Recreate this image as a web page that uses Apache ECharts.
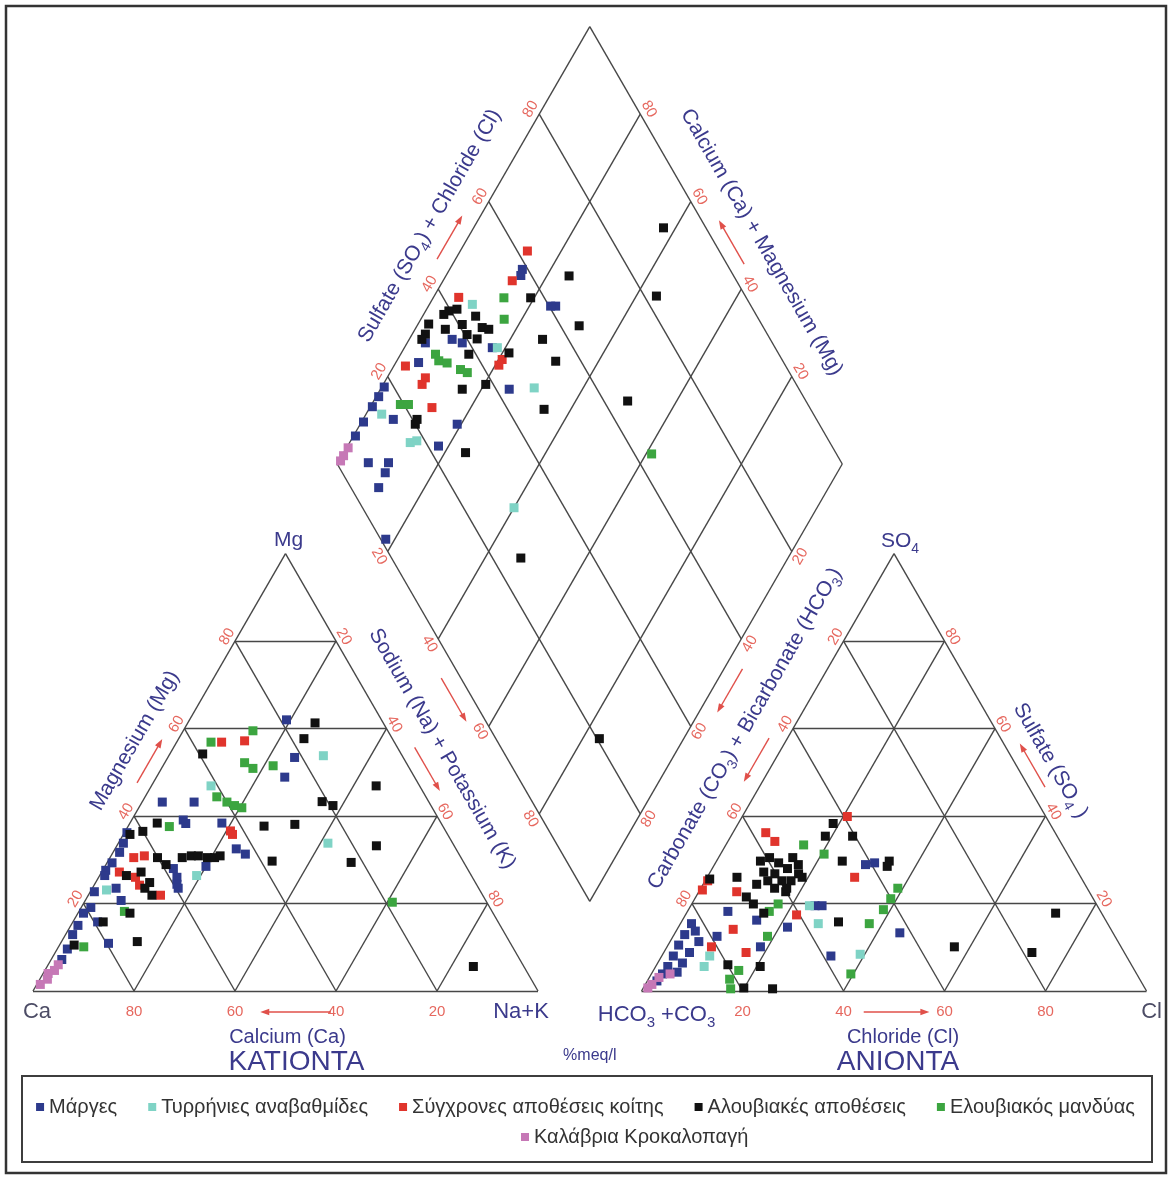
<!DOCTYPE html>
<html>
<head>
<meta charset="utf-8">
<title>Piper diagram</title>
<script src="https://cdn.jsdelivr.net/npm/echarts@6/dist/echarts.min.js"></script>
<style>
html, body { margin: 0; padding: 0; background: #fff; }
#chart { width: 1171px; height: 1180px; }
</style>
</head>
<body>
<div id="chart"></div>
<script>
// ---- sample groups ----
const groups = ['Μάργες', 'Τυρρήνιες αναβαθμίδες', 'Σύγχρονες αποθέσεις κοίτης', 'Αλουβιακές αποθέσεις', 'Ελουβιακός μανδύας', 'Καλάβρια Κροκαλοπαγή'];
const groupColors = ['#2d3a8c', '#7fd3c5', '#e0342c', '#111111', '#3ca540', '#c678b6'];
const tickValues = [20, 40, 60, 80];

// ---- cation triangle, each sample as [Mg %, Na+K %] ----
const cationMarges = [[62, 19.2], [53.4, 25.1], [48.9, 25.4], [43.2, 10.3], [43.2, 4.0], [39.1, 10.2], [38.3, 11.1], [38.4, 18.2], [32.5, 24.0], [31.3, 26.4], [36.2, 0.5], [33.8, 1], [31.7, 1.3], [29.3, 1], [27.6, 0.6], [28, 13.8], [28.5, 20], [26, 15.5], [24.4, 16.3], [23.5, 17], [26.4, 1], [23.5, 4.7], [20.7, 7.1], [19.1, 1.9], [15.8, 4.9], [10.9, 9.5], [22.7, 0.8], [17.8, 1.1], [15, 1.4], [12.9, 1.4], [9.6, 2], [7.2, 2.1]];
const cationTyrrhenian = [[53.8, 30.6], [46.9, 11.8], [33.8, 41.5], [26.4, 19.2], [23.1, 3.0]];
const cationRecent = [[56.9, 8.9], [57.2, 13.3], [36.6, 20.8], [35.8, 21.6], [30.5, 4.7], [30.9, 6.6], [27.2, 3.5], [26, 7.3], [24.2, 9.0], [21.9, 14.3]];
const cationAlluvial = [[61.3, 25.2], [57.7, 24.8], [54.2, 6.5], [46.9, 44.5], [43.3, 35.6], [42.4, 38.2], [38.4, 5.4], [36.5, 3.5], [35.8, 1.3], [37.7, 26.9], [38.1, 32.8], [33.2, 51.4], [29.7, 32.5], [29.4, 48.3], [30.5, 9.4], [28.9, 11.9], [30.5, 14.3], [30.9, 15.9], [30.9, 17.3], [30.5, 19.3], [30.5, 20.7], [30.9, 21.6], [26.4, 5.3], [27.2, 7.8], [24.8, 10.7], [23.5, 10.4], [21.9, 12.6], [17.8, 10.3], [15.8, 6.0], [11.3, 15.0], [10.5, 2.9], [5.6, 84.4]];
const cationEluvial = [[59.5, 13.8], [56.9, 6.8], [52.2, 15.8], [50.9, 18.1], [51.5, 21.8], [44.4, 14.2], [43.2, 16.8], [42.4, 18.7], [41.9, 20.4], [37.6, 8.2], [20.3, 61], [18.2, 9.0], [10.1, 5.0]];
const cationCalabria = [[6.0, 2.0], [4.7, 1.9], [4.0, 1.0], [2.7, 1.5], [1.5, 0.7]];

// ---- anion triangle, each sample as [SO4 %, Cl %] ----
const anionMarges = [[29.3, 31.5], [28.9, 29.9], [19.5, 24.6], [19.5, 26.0], [16.2, 14.7], [14.6, 21.6], [13.3, 44.5], [8.0, 33.5], [18.2, 8.0], [12.5, 8.7], [10.1, 18.5], [15.4, 2.2], [12.9, 2.1], [10.5, 2.1], [8.0, 2.3], [5.6, 2.4], [3.9, 2.2], [2.3, 1.9], [11.3, 5.7], [8.8, 5.1], [6.4, 4.9], [4.3, 4.9], [13.7, 3.8]];
const anionTyrrhenian = [[19.5, 23.5], [15.4, 27.3], [8.4, 39.1], [5.6, 9.6], [8.0, 9.5]];
const anionRecent = [[39.9, 20.8], [36.2, 6.5], [34.2, 9.3], [25.2, 0.5], [23.1, 0.5], [22.7, 7.5], [26.0, 29.2], [17.4, 22.0], [14.1, 11.1], [8.8, 16.3], [10.1, 8.8]];
const anionAlluvial = [[38.3, 18.8], [35.4, 18.7], [35.4, 24.1], [29.7, 24.9], [29.7, 34.2], [28.5, 34.4], [29.7, 8.7], [30.5, 10.1], [29.3, 12.5], [30.5, 14.7], [28.9, 16.6], [27.2, 10.6], [26.8, 13.0], [28.0, 14.9], [26.8, 17.7], [25.2, 12.4], [25.2, 15.2], [25.2, 17.0], [26.0, 18.8], [24.4, 10.6], [23.5, 14.6], [22.7, 17.2], [23.5, 17.0], [25.6, 0.7], [26.0, 5.9], [21.5, 10.0], [19.9, 12.2], [17.8, 15.3], [15.8, 31.1], [6.0, 14.1], [0.7, 19.9], [0.5, 25.7], [5.6, 20.7], [10.1, 56.9], [8.8, 72.9], [17.8, 73.1]];
const anionEluvial = [[33.4, 15.4], [31.3, 20.5], [23.5, 39.0], [21.1, 38.8], [18.6, 38.6], [19.9, 17.1], [18.2, 16.2], [12.5, 18.7], [4.7, 16.9], [2.7, 16.1], [0.5, 17.4], [3.9, 39.5], [15.4, 37.4]];
const anionCalabria = [[1.5, 1.3], [0.7, 0.9], [3.1, 1.9], [3.9, 3.7]];

// ---- central diamond, each sample as [Na+K %, SO4+Cl %] ----
const diamondMarges = [[14.4, 58.9], [14.8, 57.9], [25.2, 61.3], [24.2, 60.3], [8.5, 37.0], [10.9, 38.6], [17.4, 44.0], [3.6, 31.3], [4.5, 27.7], [25.5, 42.6], [0.5, 18.1], [0.5, 15.9], [0.4, 13.5], [0.4, 10.0], [0.4, 6.8], [6.0, 16.2], [19.2, 28.3], [18.0, 22.1], [6.0, 6.3], [10.0, 10.3], [10.5, 8.5], [10.9, 5.5], [18.2, 1]];
const diamondTyrrhenian = [[8.5, 45.0], [18.4, 45.0], [30.3, 47.7], [3.1, 14.5], [12.0, 16.9], [13.1, 18.4], [40.0, 30.0]];
const diamondRecent = [[13.3, 62.0], [13.7, 55.6], [5.0, 43.1], [2.3, 24.7], [7.6, 27.3], [7.7, 25.9], [12.3, 25.2], [20.7, 44.6], [20.7, 43.3]];
const diamondAlluvial = [[19.3, 57.3], [24.4, 67.4], [32.1, 63.7], [4.6, 39.6], [4.0, 38.2], [6.0, 41.4], [2.1, 34.1], [6.0, 36.8], [8.8, 40.7], [10.5, 44.3], [13.1, 44.3], [14.6, 45.4], [10.9, 40.5], [13.4, 42.0], [2.6, 32.3], [2.5, 31.0], [13.5, 38.6], [21.3, 46.7], [26.4, 54.9], [31.5, 55.0], [16.2, 33.3], [20.3, 38.5], [34.7, 47.2], [10.7, 20.9], [10.9, 20.0], [24.1, 26.7], [37.6, 91.6], [44.0, 82.4], [50.3, 64.7], [47.1, 25.6], [83.3, 20.5]];
const diamondEluvial = [[14.0, 52.0], [16.5, 49.6], [6.9, 32.0], [8.3, 31.9], [10.2, 33.3], [13.6, 35.2], [15.3, 36.2], [5.7, 19.3], [7.3, 20.9], [61.1, 63.4]];
const diamondCalabria = [[0.3, 2.2], [0.3, 4.0], [0.3, 1.0]];

const cationSets = [cationMarges, cationTyrrhenian, cationRecent, cationAlluvial, cationEluvial, cationCalabria];
const anionSets = [anionMarges, anionTyrrhenian, anionRecent, anionAlluvial, anionEluvial, anionCalabria];
const diamondSets = [diamondMarges, diamondTyrrhenian, diamondRecent, diamondAlluvial, diamondEluvial, diamondCalabria];

// ---- layout ----
const W = 1171, HT = 1180;
const PX = 5.05;            // pixels per percent along a triangle side
const ORIGIN = [33, 991];   // pixel position of the Ca corner
const GAP = 20.5;           // space between the two triangles, in percent units
const R3 = Math.sqrt(3) / 2;
const B = [100 + GAP / 2, GAP * R3];   // lowest vertex of the diamond

const FONT = '"Liberation Sans", Arial, Helvetica, sans-serif';
const TITLE = '#3b3a8c';
const TICK = '#e6685f';
const RED = '#e0504a';
const GRIDLINE = '#474747';

// ternary -> plane (percent units, Ca corner at the origin)
const catXY = d => [d[1] + d[0] / 2, d[0] * R3];
const anXY = d => [100 + GAP + d[1] + d[0] / 2, d[0] * R3];
const diaXY = d => [B[0] - (100 - d[0]) * 0.5 + d[1] * 0.5, B[1] + (100 - d[0]) * R3 + d[1] * R3];

// frame lines of the three plots
const segs = [];
const seg = (a, b) => segs.push({ coords: [a, b] });
[catXY, anXY].forEach(f => {
  seg(f([0, 0]), f([0, 100]));
  seg(f([0, 100]), f([100, 0]));
  seg(f([100, 0]), f([0, 0]));
  tickValues.forEach(k => {
    seg(f([k, 0]), f([k, 100 - k]));
    seg(f([0, k]), f([100 - k, k]));
    seg(f([0, 100 - k]), f([100 - k, 0]));
  });
});
seg(diaXY([0, 0]), diaXY([0, 100]));
seg(diaXY([0, 100]), diaXY([100, 100]));
seg(diaXY([100, 100]), diaXY([100, 0]));
seg(diaXY([100, 0]), diaXY([0, 0]));
tickValues.forEach(k => {
  seg(diaXY([k, 0]), diaXY([k, 100]));
  seg(diaXY([0, k]), diaXY([100, k]));
});

const scatterSeries = groups.map((name, i) => ({
  name: name,
  type: 'scatter',
  symbol: 'rect',
  symbolSize: 9,
  z: name === 'Αλουβιακές αποθέσεις' ? 4 : 3,
  itemStyle: { color: groupColors[i], opacity: 1 },
  data: cationSets[i].map(catXY).concat(anionSets[i].map(anXY), diamondSets[i].map(diaXY)),
  silent: true
}));

const legendText = { fontSize: 20, color: '#333', fontFamily: FONT };
const chart = echarts.init(document.getElementById('chart'));
chart.setOption({
  animation: false,
  backgroundColor: '#fff',
  grid: { left: 0, right: 0, top: 0, bottom: 0 },
  xAxis: { type: 'value', min: -ORIGIN[0] / PX, max: (W - ORIGIN[0]) / PX, show: false },
  yAxis: { type: 'value', min: -(HT - ORIGIN[1]) / PX, max: ORIGIN[1] / PX, show: false },
  legend: [
    { data: groups.slice(0, 5), top: 1092, left: 'center', itemGap: 31, itemWidth: 8, itemHeight: 8, icon: 'rect', textStyle: legendText, selectedMode: false },
    { data: [groups[5]], top: 1122, left: 516, itemWidth: 8, itemHeight: 8, icon: 'rect', textStyle: legendText, selectedMode: false }
  ],
  series: [{
    type: 'lines',
    coordinateSystem: 'cartesian2d',
    data: segs,
    lineStyle: { color: GRIDLINE, width: 1.4, opacity: 1 },
    silent: true,
    z: 1
  }].concat(scatterSeries)
});

// ---- texts and arrows ----
const toPx = p => chart.convertToPixel({ xAxisIndex: 0, yAxisIndex: 0 }, p);
const N_UL = [-R3, -0.5], N_UR = [R3, -0.5], N_LL = [-R3, 0.5], N_LR = [R3, 0.5], N_DOWN = [0, 1];
const ROT_UP = Math.PI / 3, ROT_DOWN = -Math.PI / 3;

function txt(x, y, text, size, color, rot, rich) {
  return {
    type: 'text', x: x, y: y, rotation: rot || 0, z: 100,
    style: {
      text: text, fill: color, font: size + 'px ' + FONT,
      align: 'center', verticalAlign: 'middle',
      rich: rich || undefined
    }
  };
}
function at(pu, normal, dist) {
  const p = toPx(pu);
  return [p[0] + normal[0] * dist, p[1] + normal[1] * dist];
}
function richSub(size) {
  return {
    n: { fontSize: size, fontFamily: FONT, lineHeight: size + 8, verticalAlign: 'middle' },
    s: { fontSize: Math.round(size * 0.68), fontFamily: FONT, lineHeight: size + 8, verticalAlign: 'bottom' }
  };
}
function arrowPx(a, b) {
  const dx = b[0] - a[0], dy = b[1] - a[1], L = Math.hypot(dx, dy), ux = dx / L, uy = dy / L;
  const hl = 9, hw = 3.2;
  const base = [b[0] - ux * hl, b[1] - uy * hl];
  return [
    { type: 'line', z: 100, shape: { x1: a[0], y1: a[1], x2: base[0] + ux * 2, y2: base[1] + uy * 2 }, style: { stroke: RED, lineWidth: 1.4 } },
    { type: 'polygon', z: 100, shape: { points: [b, [base[0] - uy * hw, base[1] + ux * hw], [base[0] + uy * hw, base[1] - ux * hw]] }, style: { fill: RED } }
  ];
}
function arrowAlong(p0u, p1u, normal, dist) {
  return arrowPx(at(p0u, normal, dist), at(p1u, normal, dist));
}

const g = [];
// tick labels
tickValues.forEach(k => {
  let p;
  p = at(catXY([0, 100 - k]), N_DOWN, 21); g.push(txt(p[0], p[1], String(k), 15, TICK));
  p = at(catXY([k, 0]), N_UL, 9); g.push(txt(p[0], p[1], String(k), 15, TICK, ROT_UP));
  p = at(catXY([100 - k, k]), N_UR, 9); g.push(txt(p[0], p[1], String(k), 15, TICK, ROT_DOWN));
  p = at(anXY([0, k]), N_DOWN, 21); g.push(txt(p[0], p[1], String(k), 15, TICK));
  p = at(anXY([100 - k, 0]), N_UL, 9); g.push(txt(p[0], p[1], String(k), 15, TICK, ROT_UP));
  p = at(anXY([k, 100 - k]), N_UR, 9); g.push(txt(p[0], p[1], String(k), 15, TICK, ROT_DOWN));
  p = at(diaXY([0, k]), N_UL, 10); g.push(txt(p[0], p[1], String(k), 15, TICK, ROT_UP));
  p = at(diaXY([k, 0]), N_LL, 10); g.push(txt(p[0], p[1], String(k), 15, TICK, ROT_DOWN));
  p = at(diaXY([100 - k, 100]), N_UR, 10); g.push(txt(p[0], p[1], String(k), 15, TICK, ROT_DOWN));
  p = at(diaXY([100, 100 - k]), N_LR, 10); g.push(txt(p[0], p[1], String(k), 15, TICK, ROT_UP));
});

// side titles
const TS = 21;
let p;
p = at(catXY([53, 0]), N_UL, 37); g.push(txt(p[0], p[1], 'Magnesium (Mg)', TS, TITLE, ROT_UP));
p = at(catXY([51, 49]), N_UR, 38); g.push(txt(p[0], p[1], 'Sodium (Na) + Potassium (K)', TS, TITLE, ROT_DOWN));
p = at(diaXY([0, 50]), N_UL, 39); g.push(txt(p[0], p[1], '{n|Sulfate (SO}{s|4}{n|) + Chloride (Cl)}', TS, TITLE, ROT_UP, richSub(TS)));
p = at(diaXY([54, 100]), N_UR, 41); g.push(txt(p[0], p[1], 'Calcium (Ca) + Magnesium (Mg)', TS, TITLE, ROT_DOWN));
p = at(diaXY([100, 45]), N_LR, 48); g.push(txt(p[0], p[1], '{n|Carbonate (CO}{s|3}{n|) + Bicarbonate (HCO}{s|3}{n|)}', TS, TITLE, ROT_UP, richSub(TS)));
p = at(anXY([49, 51]), N_UR, 32); g.push(txt(p[0], p[1], '{n|Sulfate (SO}{s|4}{n| )}', TS, TITLE, ROT_DOWN, richSub(TS)));

// arrows showing increasing direction
g.push(...arrowAlong(catXY([46, 0]), catXY([56, 0]), N_UL, 14));
g.push(...arrowAlong(catXY([54, 46]), catXY([44, 56]), N_UR, 15));
g.push(...arrowAlong(catXY([0, 59]), catXY([0, 45]), N_DOWN, 21));
g.push(...arrowAlong(anXY([0, 44]), anXY([0, 57]), N_DOWN, 21));
g.push(...arrowAlong(diaXY([0, 45]), diaXY([0, 55]), N_UL, 16));
g.push(...arrowAlong(diaXY([47, 0]), diaXY([57, 0]), N_LL, 17));
g.push(...arrowAlong(diaXY([56, 100]), diaXY([46, 100]), N_UR, 15));
g.push(...arrowAlong(diaXY([100, 55]), diaXY([100, 45]), N_LR, 16));
g.push(...arrowAlong(anXY([56, 0]), anXY([46, 0]), N_UL, 16));
g.push(...arrowAlong(anXY([45, 55]), anXY([55, 45]), N_UR, 14));

// corner and bottom labels
const caPx = toPx(catXY([0, 0])), nkPx = toPx(catXY([0, 100])), mgPx = toPx(catXY([100, 0]));
const hcPx = toPx(anXY([0, 0])), clPx = toPx(anXY([0, 100])), soPx = toPx(anXY([100, 0]));
g.push(txt(caPx[0] + 4, caPx[1] + 21, 'Ca', 22, '#4d4d66'));
g.push(txt(nkPx[0] - 17, nkPx[1] + 21, 'Na+K', 22, TITLE));
g.push(txt(mgPx[0] + 3, mgPx[1] - 13, 'Mg', 21, TITLE));
g.push(txt(soPx[0] + 6, soPx[1] - 12, '{n|SO}{s|4}', 21, TITLE, 0, richSub(21)));
g.push(txt(hcPx[0] + 15, hcPx[1] + 24, '{n|HCO}{s|3}{n| +CO}{s|3}', 22, TITLE, 0, richSub(22)));
g.push(txt(clPx[0] + 5, clPx[1] + 21, 'Cl', 22, '#4d4d66'));
const catMid = (caPx[0] + nkPx[0]) / 2, anMid = (hcPx[0] + clPx[0]) / 2;
g.push(txt(catMid + 2, caPx[1] + 46, 'Calcium (Ca)', 20, TITLE));
g.push(txt(catMid + 11, caPx[1] + 71, 'KATIONTA', 28, TITLE));
g.push(txt(anMid + 9, caPx[1] + 46, 'Chloride (Cl)', 20, TITLE));
g.push(txt(anMid + 4, caPx[1] + 71, 'ANIONTA', 28, TITLE));
g.push(txt((nkPx[0] + hcPx[0]) / 2, caPx[1] + 65, '%meq/l', 16, TITLE));

// legend box and outer frame
g.push({ type: 'rect', z: 0, shape: { x: 22, y: 1076, width: 1130, height: 86 }, style: { fill: 'none', stroke: '#3d3d3d', lineWidth: 2 } });
g.push({ type: 'rect', z: 0, shape: { x: 6, y: 6, width: 1160, height: 1167 }, style: { fill: 'none', stroke: '#333', lineWidth: 2.5 } });

chart.setOption({ graphic: { elements: g } });
</script>
</body>
</html>
